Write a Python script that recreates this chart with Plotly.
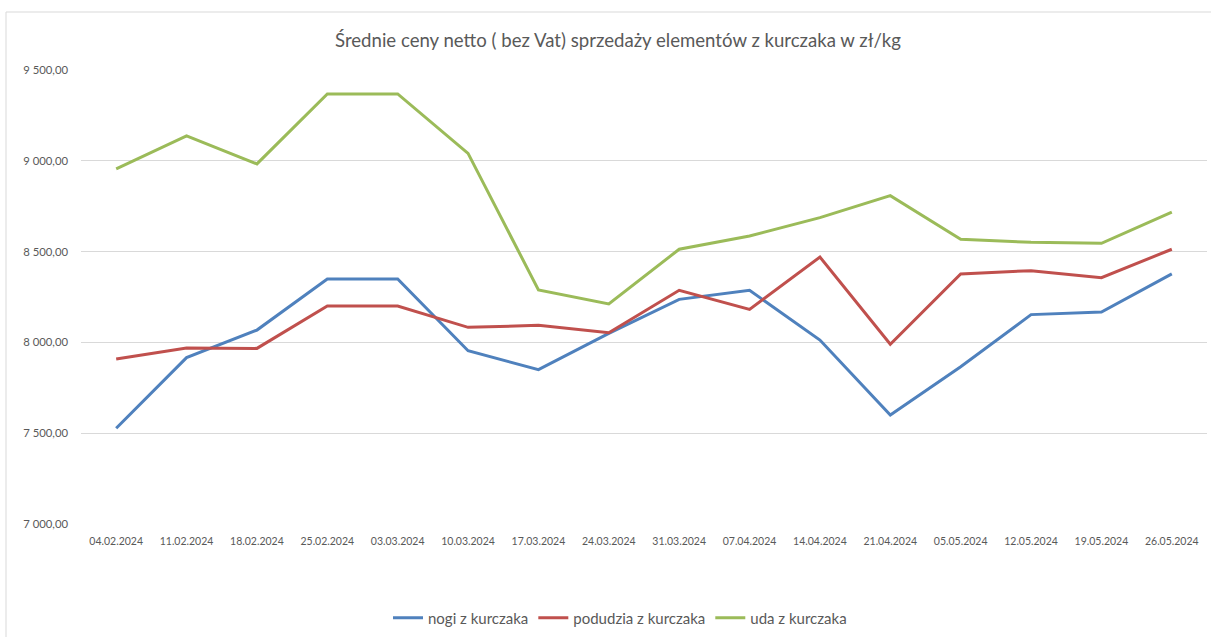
import plotly.graph_objects as go

dates = ["04.02.2024", "11.02.2024", "18.02.2024", "25.02.2024", "03.03.2024", "10.03.2024",
         "17.03.2024", "24.03.2024", "31.03.2024", "07.04.2024", "14.04.2024", "21.04.2024",
         "05.05.2024", "12.05.2024", "19.05.2024", "26.05.2024"]

nogi = [7527, 7916, 8068, 8349, 8349, 7954, 7850, 8050, 8237, 8287, 8013, 7600, 7866, 8153, 8167, 8377]
podudzia = [7909, 7969, 7967, 8200, 8200, 8083, 8094, 8053, 8287, 8182, 8470, 7990, 8377, 8395, 8356, 8513]
uda = [8955, 9137, 8983, 9368, 9368, 9041, 8289, 8212, 8513, 8586, 8687, 8808, 8568, 8551, 8546, 8718]

series_names = ["nogi z kurczaka", "podudzia z kurczaka", "uda z kurczaka"]
series_colors = ["#4f81bd", "#c0504d", "#9bbb59"]
y_ticks = [7000, 7500, 8000, 8500, 9000, 9500]

FONT = "Lato, Open Sans, sans-serif"

fig = go.Figure()
for name, vals, col in zip(series_names, [nogi, podudzia, uda], series_colors):
    fig.add_trace(go.Scatter(x=dates, y=vals, mode="lines", name=name,
                             line=dict(color=col, width=3)))

W, H = 1211, 637
L, R, T, B = 81, 4, 70, 113
pw, ph = W - L - R, H - T - B

def px_x(p):
    return (p - L) / pw

def px_y(p):
    return (H - B - p) / ph

fig.add_shape(type="rect", xref="paper", yref="paper",
              x0=px_x(6), x1=px_x(1212), y0=px_y(12), y1=px_y(660),
              line=dict(color="#d9d9d9", width=1), fillcolor="rgba(0,0,0,0)", layer="below")

fig.update_layout(
    width=W, height=H,
    margin=dict(l=L, r=R, t=T, b=B),
    paper_bgcolor="white", plot_bgcolor="white",
    separators=", ",
    font=dict(family=FONT, color="#595959", size=11),
    title=dict(text="Średnie ceny netto ( bez Vat) sprzedaży elementów z kurczaka w zł/kg",
               x=618 / W, xanchor="center", y=1 - 40 / H, yanchor="middle",
               font=dict(family=FONT, size=18.6, color="#595959")),
    legend=dict(orientation="h", x=620 / W, xref="container", xanchor="center",
                y=1 - 618 / H, yref="container", yanchor="middle",
                font=dict(family=FONT, size=15, color="#595959")),
    showlegend=True,
)
fig.update_xaxes(showgrid=False, showline=False, zeroline=False, ticks="",
                 range=[-0.5, len(dates) - 0.5], ticklabelstandoff=9,
                 tickfont=dict(size=10.5, color="#595959"))
fig.update_yaxes(range=[7000, 9500], tickvals=y_ticks, tickformat=",.2f",
                 showgrid=True, gridcolor="#d9d9d9", gridwidth=1, zeroline=False,
                 showline=False, ticks="", ticklabelstandoff=12,
                 tickfont=dict(size=11.3, color="#595959"))

fig.write_html("out.html", config={"displayModeBar": False},
               post_script="document.body.style.margin='0';document.body.style.overflow='hidden';")
